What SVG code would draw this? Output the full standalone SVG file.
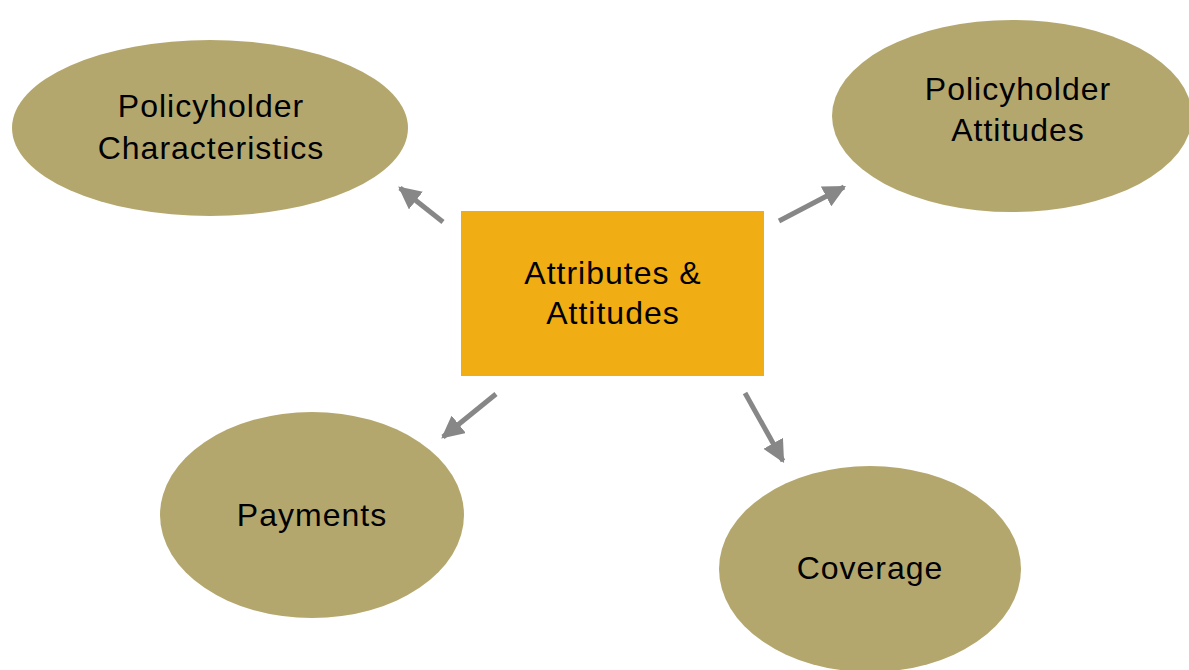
<svg xmlns="http://www.w3.org/2000/svg" width="1189" height="670" viewBox="0 0 1189 670">
<style>
.node ellipse{fill:#B4A76E}
.node rect{fill:#F0AD14}
text{font-family:"Liberation Sans",Arial,sans-serif;font-size:32px;fill:#000;text-anchor:middle;letter-spacing:1px}
.conn line{stroke:#878787;stroke-width:5}
</style>
<defs>
<marker id="ah" viewBox="0 0 10 10" refX="9" refY="5" markerWidth="4.5" markerHeight="4.5" orient="auto" markerUnits="strokeWidth">
<path d="M0,0 L10,5 L0,10 z" fill="#878787"/>
</marker>
</defs>
<rect width="1189" height="670" fill="#fff"/>
<g id="n-characteristics" class="node">
<ellipse cx="210" cy="128" rx="198" ry="88"/>
<text x="211" y="117">Policyholder</text>
<text x="211" y="159">Characteristics</text>
</g>
<g id="n-attitudes" class="node">
<ellipse cx="1012" cy="116" rx="180" ry="96"/>
<text x="1018" y="100">Policyholder</text>
<text x="1018" y="141">Attitudes</text>
</g>
<g id="n-center" class="node">
<rect x="461" y="211" width="303" height="165"/>
<text x="613" y="284">Attributes &amp;</text>
<text x="613" y="324">Attitudes</text>
</g>
<g id="n-payments" class="node">
<ellipse cx="312" cy="515" rx="152" ry="103"/>
<text x="312" y="526">Payments</text>
</g>
<g id="n-coverage" class="node">
<ellipse cx="870" cy="569" rx="151" ry="103"/>
<text x="870" y="579">Coverage</text>
</g>
<g id="connectors" class="conn">
<line x1="443" y1="222" x2="400" y2="188" marker-end="url(#ah)"/>
<line x1="779" y1="221" x2="844" y2="187" marker-end="url(#ah)"/>
<line x1="496" y1="394" x2="443" y2="437" marker-end="url(#ah)"/>
<line x1="745" y1="393" x2="783" y2="461" marker-end="url(#ah)"/>
</g>
</svg>
